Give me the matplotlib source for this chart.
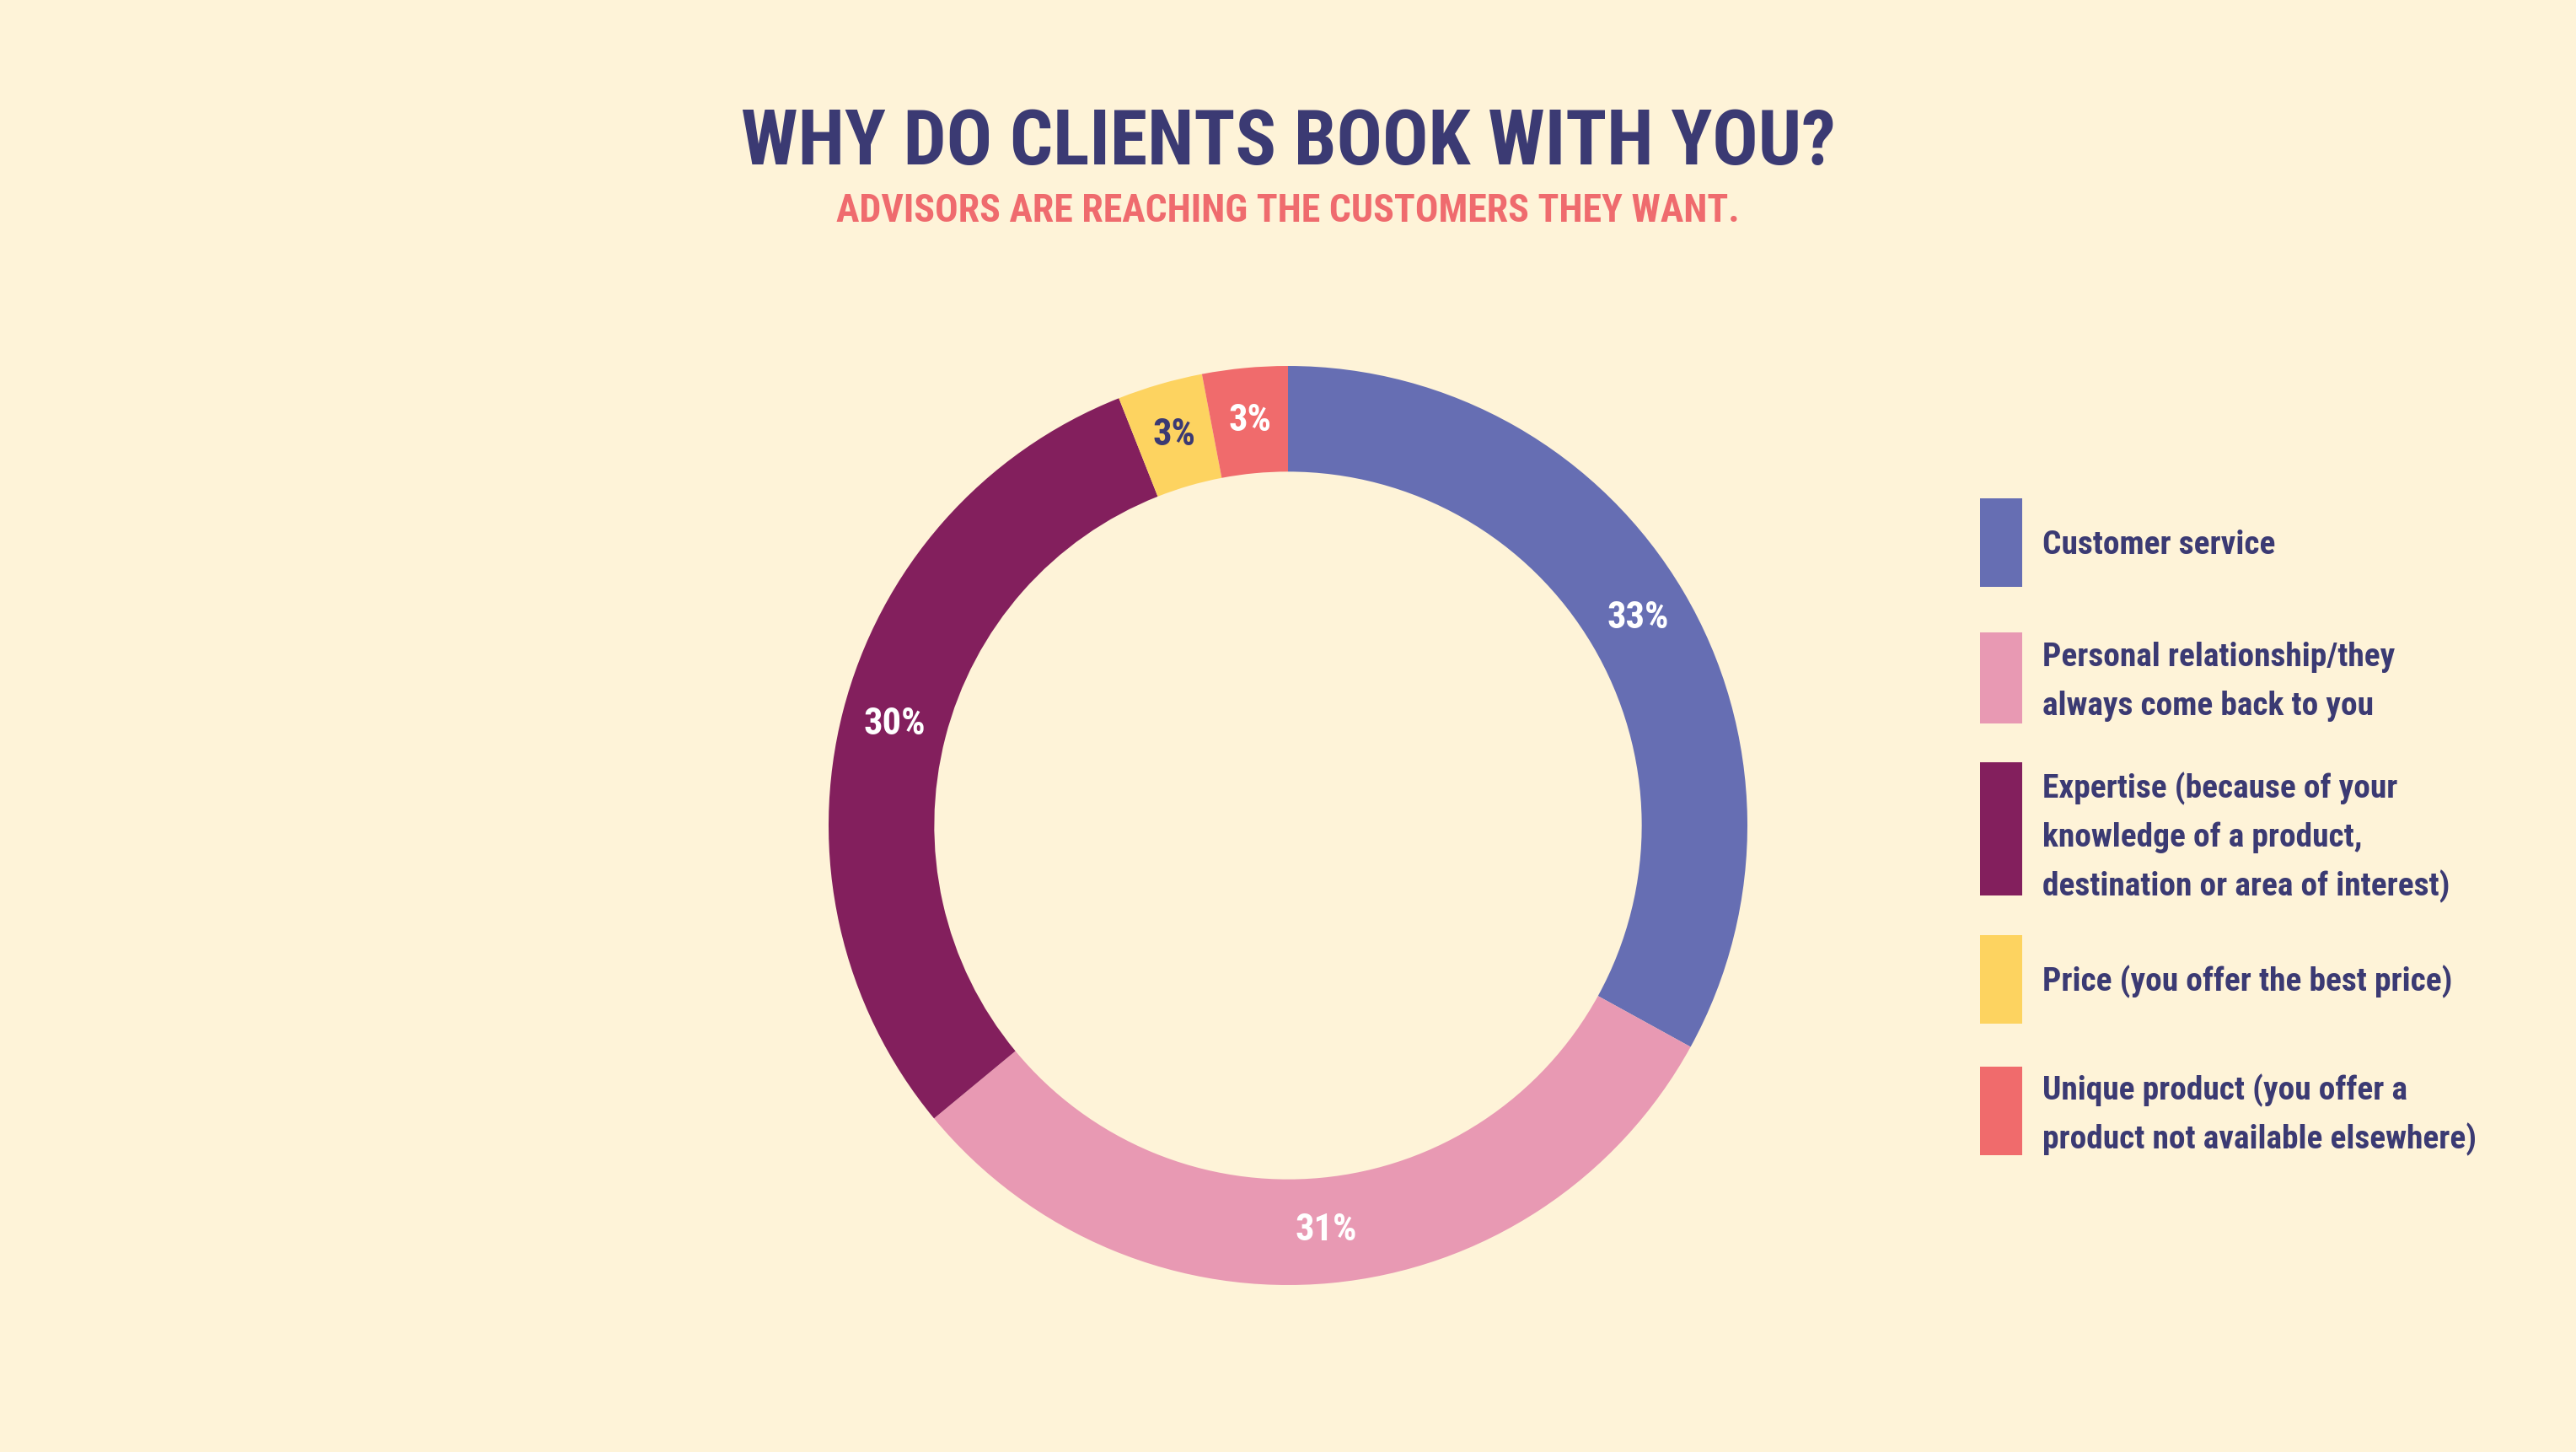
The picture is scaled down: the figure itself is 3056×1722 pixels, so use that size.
import numpy as np
import matplotlib
matplotlib.use("Agg")
import matplotlib.pyplot as plt
from matplotlib.patches import Rectangle

W, H = 3056, 1722
BG = "#FEF3D8"
NAVY = "#3B3A73"
CORAL = "#EF6B6E"

categories = [
    "Customer service",
    "Personal relationship/they\nalways come back to you",
    "Expertise (because of your\nknowledge of a product,\ndestination or area of interest)",
    "Price (you offer the best price)",
    "Unique product (you offer a\nproduct not available elsewhere)",
]
shares = [33, 31, 30, 3, 3]
colors = ["#666EB3", "#E899B3", "#831F5D", "#FDD360", "#F06B6C"]
label_colors = ["white", "white", "white", NAVY, "white"]

FONT = ["Roboto Condensed", "DejaVu Sans Condensed", "Open Sans Condensed",
        "Liberation Sans Narrow", "Noto Sans Condensed", "DejaVu Sans"]
plt.rcParams["font.family"] = FONT
plt.rcParams["font.weight"] = "bold"
plt.rcParams["font.stretch"] = "condensed"


def fx(px):
    return px / W


def fy(py):
    return 1 - py / H


fig = plt.figure(figsize=(W / 200, H / 200), dpi=200, facecolor=BG)

# donut
cx, cy, R = 1528, 979, 545
ax = fig.add_axes([fx(cx - R), fy(cy + R), 2 * R / W, 2 * R / H])
ax.set_facecolor(BG)
ring = 0.23
wedges, _ = ax.pie(shares, colors=colors, startangle=90, counterclock=False,
                   radius=1, wedgeprops=dict(width=ring, linewidth=0))
ax.set_xlim(-1, 1)
ax.set_ylim(-1, 1)
ax.axis("off")

r_lab = 1 - ring / 2
for w, val, tc in zip(wedges, shares, label_colors):
    ang = np.deg2rad((w.theta1 + w.theta2) / 2)
    ax.text(r_lab * np.cos(ang), r_lab * np.sin(ang), f"{val}%", ha="center",
            va="center", color=tc, fontsize=16, fontweight="bold")

# title
fig.text(0.5, fy(195), "WHY DO CLIENTS BOOK WITH YOU?", ha="center",
         va="baseline", color=NAVY, fontsize=32.5, fontweight="bold")
fig.text(0.5, fy(263), "ADVISORS ARE REACHING THE CUSTOMERS THEY WANT.",
         ha="center", va="baseline", color=CORAL, fontsize=16.5, fontweight="bold")

# legend, drawn by hand so the swatch matches the text block height
sw_top = [591, 750, 904, 1109, 1265]
sw_bot = [696, 858, 1062, 1214, 1370]
first_base = [657, 790, 946, 1175, 1304]
pitch = 58
for lab, col, t, b, y0 in zip(categories, colors, sw_top, sw_bot, first_base):
    fig.patches.append(Rectangle((fx(2349), fy(b)), fx(50), (b - t) / H,
                                 transform=fig.transFigure, color=col, lw=0))
    for i, line in enumerate(lab.split("\n")):
        fig.text(fx(2423), fy(y0 + i * pitch), line, ha="left", va="baseline",
                 color=NAVY, fontsize=14.2, fontweight="bold")

fig.savefig("out.png", dpi=200, facecolor=BG)
